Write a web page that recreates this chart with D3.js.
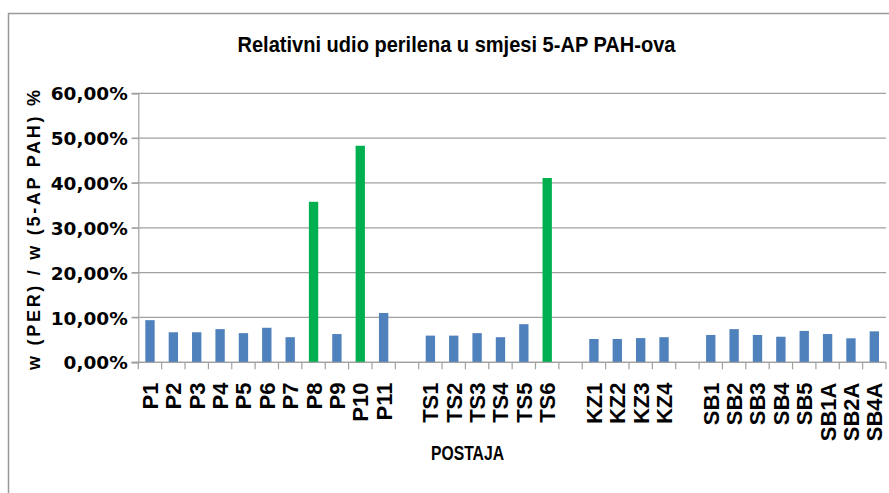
<!DOCTYPE html>
<html>
<head>
<meta charset="utf-8">
<script src="https://cdn.jsdelivr.net/npm/d3@7"></script>
<style>
  html, body { margin: 0; padding: 0; background: #fff; }
  svg { display: block; }
</style>
</head>
<body>
<svg id="chart" width="889" height="493"></svg>
<script>
// Sampling stations, in the order they appear along the axis
const stations = [
  "P1", "P2", "P3", "P4", "P5", "P6", "P7", "P8", "P9", "P10", "P11",
  "TS1", "TS2", "TS3", "TS4", "TS5", "TS6",
  "KZ1", "KZ2", "KZ3", "KZ4",
  "SB1", "SB2", "SB3", "SB4", "SB5", "SB1A", "SB2A", "SB4A"
];
// Share of perylene in the 5-ring PAH mixture, in percent
const perylenePct = [
  9.4, 6.7, 6.7, 7.4, 6.5, 7.7, 5.6, 35.8, 6.3, 48.3, 11.0,
  5.95, 5.95, 6.5, 5.6, 8.5, 41.1,
  5.2, 5.2, 5.4, 5.6,
  6.1, 7.4, 6.1, 5.7, 7.0, 6.3, 5.35, 6.9
];
// Stations where perylene dominates (drawn in green)
const highlighted = ["P8", "P10", "TS6"];
// An empty slot follows the last station of each area
const gapAfter = ["P11", "TS6", "KZ4"];
const yTicks = [0, 10, 20, 30, 40, 50, 60];

const title = "Relativni udio perilena u smjesi 5-AP PAH-ova";
const yTitle = "w (PER) / w (5-AP PAH) %";
const xTitle = "POSTAJA";

const svg = d3.select("#chart");
const plotLeft = 138.3, plotRight = 886, plotTop = 93.3, plotBottom = 362.3;

// Category slots, including blank spacers between areas
const slots = [];
stations.forEach((s, i) => {
  slots.push(s);
  if (gapAfter.includes(s)) slots.push("gap-" + i);
});

const x = d3.scaleBand().domain(slots).range([plotLeft, plotRight]).paddingInner(0).paddingOuter(0);
const y = d3.scaleLinear().domain([0, 60]).range([plotBottom, plotTop]);

const data = stations.map((s, i) => ({ station: s, value: perylenePct[i] }));

// Outer chart frame
svg.append("rect")
  .attr("x", 8.5).attr("y", 13.5)
  .attr("width", 900).attr("height", 500)
  .attr("fill", "none").attr("stroke", "#999").attr("stroke-width", 1.5);

// Title
svg.append("text")
  .attr("x", 456.5).attr("y", 51.5)
  .attr("text-anchor", "middle")
  .attr("font-family", "'Liberation Sans Narrow', 'Liberation Sans', Arial, sans-serif")
  .attr("font-weight", "bold")
  .attr("font-size", 21.5)
  .attr("textLength", 438).attr("lengthAdjust", "spacingAndGlyphs")
  .attr("fill", "#000")
  .text(title);

// Horizontal gridlines
svg.append("g")
  .selectAll("line")
  .data(yTicks)
  .join("line")
  .attr("x1", plotLeft - 6.6).attr("x2", plotRight)
  .attr("y1", d => y(d)).attr("y2", d => y(d))
  .attr("stroke", "#a0a0a0").attr("stroke-width", 1.2);

// Y axis with labels
const yAxis = svg.append("g")
  .attr("transform", `translate(${plotLeft},0)`)
  .call(d3.axisLeft(y).tickValues(yTicks).tickSize(6.6).tickPadding(4)
    .tickFormat(d => d.toFixed(2).replace(".", ",") + "%"));
yAxis.select(".domain").attr("stroke", "#a0a0a0").attr("stroke-width", 1.2);
yAxis.selectAll(".tick line").attr("stroke", "#a0a0a0");
yAxis.selectAll(".tick text")
  .attr("font-family", "'DejaVu Sans', sans-serif")
  .attr("font-weight", "bold")
  .attr("font-size", 18.5)
  .attr("fill", "#000")
  .attr("dy", "0.36em");

// Bars
const barW = x.bandwidth() * 0.4;
svg.append("g")
  .selectAll("rect")
  .data(data)
  .join("rect")
  .attr("x", d => x(d.station) + (x.bandwidth() - barW) / 2)
  .attr("width", barW)
  .attr("y", d => y(d.value))
  .attr("height", d => y(0) - y(d.value))
  .attr("fill", d => highlighted.includes(d.station) ? "#00B050" : "#4F81BD");

// Category axis: baseline and boundary ticks
const xAxis = svg.append("g");
xAxis.append("line")
  .attr("x1", plotLeft - 6.6).attr("x2", plotRight)
  .attr("y1", y(0)).attr("y2", y(0))
  .attr("stroke", "#a0a0a0").attr("stroke-width", 1.2);
const bounds = slots.map(s => x(s)).concat([x.range()[1]]);
xAxis.selectAll("line.bound")
  .data(bounds)
  .join("line")
  .attr("class", "bound")
  .attr("x1", d => d).attr("x2", d => d)
  .attr("y1", y(0)).attr("y2", y(0) + 7)
  .attr("stroke", "#a0a0a0").attr("stroke-width", 1.2);

// Rotated station labels
xAxis.selectAll("text.lab")
  .data(stations)
  .join("text")
  .attr("class", "lab")
  .attr("transform", d => `translate(${x(d) + x.bandwidth() / 2 + 8},382.5) rotate(-90)`)
  .attr("text-anchor", "end")
  .attr("font-family", "'Liberation Sans', Arial, sans-serif")
  .attr("font-weight", "bold")
  .attr("font-size", 22)
  .attr("fill", "#000")
  .text(d => d);

// Axis titles
svg.append("text")
  .attr("transform", "translate(39.5,230) rotate(-90)")
  .attr("text-anchor", "middle")
  .attr("font-family", "'Liberation Sans', Arial, sans-serif")
  .attr("font-weight", "bold")
  .attr("font-size", 18)
  .attr("textLength", 280).attr("lengthAdjust", "spacing")
  .attr("fill", "#000")
  .text(yTitle);

svg.append("text")
  .attr("x", 467.5).attr("y", 460)
  .attr("text-anchor", "middle")
  .attr("font-family", "'Liberation Sans Narrow', 'Liberation Sans', Arial, sans-serif")
  .attr("font-weight", "bold")
  .attr("font-size", 19.5)
  .attr("textLength", 73).attr("lengthAdjust", "spacingAndGlyphs")
  .attr("fill", "#000")
  .text(xTitle);
</script>
</body>
</html>
